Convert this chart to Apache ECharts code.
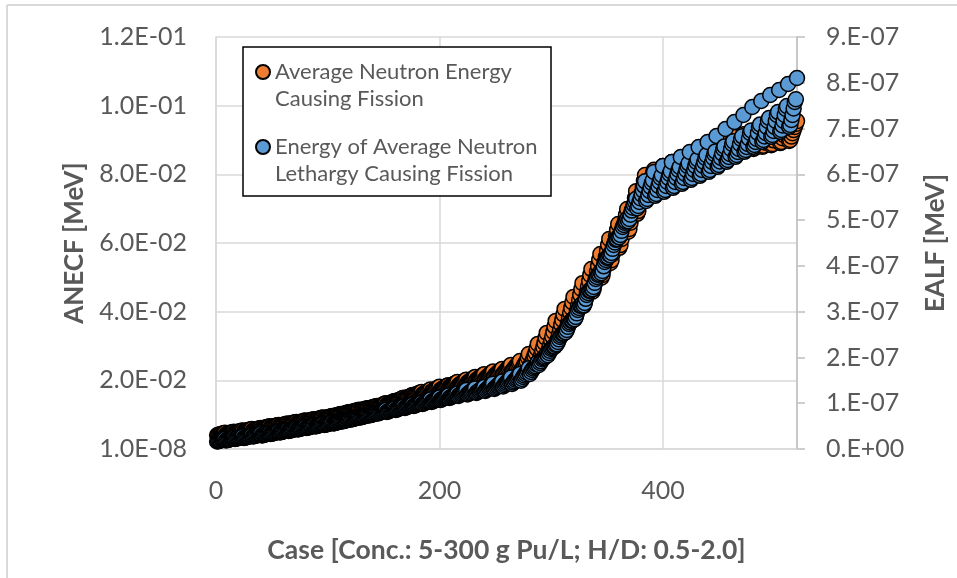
<!DOCTYPE html>
<html>
<head>
<meta charset="utf-8">
<script src="https://cdn.jsdelivr.net/npm/echarts@6/dist/echarts.min.js"></script>
<style>html,body{margin:0;padding:0;background:#fff}#c{width:957px;height:578px}</style>
</head>
<body>
<div id="c"></div>
<script>
// ---- DATA ----
// Cases come in groups of 8 consecutive sub-cases. Array "k" holds one sub-case of every group;
// within a group the sub-cases are plotted in the order 8,7,...,1 (lowest value first).
const groupSize = 8;

// ANECF [MeV] (left axis)
const anecf1 = [.0047,.0050,.0054,.0058,.0061,.0066,.0070,.0074,.0079,.0083,.0087,.0092,.0096,.0102,.0108,.0114,.0119,.0125,.0133,.0140,.0149,.0157,.0166,.0173,.0181,.0186,.0195,.0202,.0210,.0218,.0226,.0233,.0245,.0256,
.0277,.0306,.0338,.0373,.0408,.0443,.0483,.0524,.0568,.0612,.0655,.0699,.0751,.0798,.0813,.0824,.0836,.0845,.0856,.0868,.0877,.0888,.0897,.0909,.0917,.0926,.0932,.0938,.0944,.0950,.0955];
const anecf2 = [.0046,.0049,.0053,.0057,.0060,.0065,.0069,.0073,.0078,.0082,.0086,.0091,.0095,.0101,.0107,.0113,.0118,.0124,.01315,.01385,.01475,.01555,.01645,.0171,.0179,.0184,.0193,.01995,.02075,.02155,.0223,.0230,.02413,.02518,
.0267,.0293,.0324,.0357,.0392,.0427,.0466,.0507,.0551,.0595,.0638,.0682,.0731,.0781,.0803,.0816,.0827,.0836,.0848,.0859,.0868,.0880,.0889,.0900,.0909,.0918,.0924,.0929,.0935,.0941,.0947];
const anecf3 = [.0045,.0048,.0052,.0056,.0059,.0064,.0068,.0072,.0077,.0081,.0085,.0090,.0094,.0100,.0106,.0112,.0117,.0123,.0130,.0137,.0146,.0154,.0163,.0169,.0177,.0182,.0191,.0197,.0205,.0213,.0220,.0227,.02376,.02476,
.0256,.0280,.0309,.0341,.0376,.0411,.0449,.0489,.0533,.0577,.0620,.0664,.0711,.0763,.0792,.0807,.0818,.0827,.0839,.0850,.0859,.0871,.0880,.0891,.0900,.0909,.0915,.0920,.0926,.0932,.0938];
const anecf4 = [.0044,.0047,.0051,.0055,.0058,.0063,.0067,.0071,.0076,.0080,.0084,.0089,.0093,.0099,.0105,.0111,.0116,.0122,.01285,.01355,.01445,.01525,.01615,.0167,.0175,.0180,.0189,.01945,.02025,.02105,.0217,.0224,.02339,.02434,
.0251,.0271,.0297,.0328,.0362,.0397,.0433,.0473,.0516,.0560,.0603,.0647,.0694,.0746,.0782,.0800,.0811,.0820,.0832,.0842,.0852,.0862,.0873,.0883,.0892,.0900,.0906,.0912,.0918,.0924,.0929];
const anecf5 = [.0043,.0046,.0050,.0054,.0057,.0062,.0066,.0070,.0075,.0079,.0083,.0088,.0092,.0098,.0104,.0110,.0115,.0121,.0127,.0134,.0143,.0151,.0160,.0165,.0173,.0178,.0187,.0192,.0200,.0208,.0214,.0221,.02302,.02392,
.0245,.0262,.0285,.0315,.0347,.0382,.0417,.0457,.0498,.0542,.0585,.0629,.0676,.0728,.0772,.0792,.0804,.0813,.0824,.0833,.0845,.0853,.0865,.0874,.0883,.0891,.0897,.0903,.0909,.0915,.0920];
const anecf6 = [.0042,.0045,.0049,.0053,.0056,.0061,.0065,.0069,.0074,.0078,.0082,.0087,.0091,.0097,.0103,.0109,.0114,.0120,.01255,.01325,.01415,.01495,.01585,.0163,.0171,.0176,.0185,.01895,.01975,.02055,.0211,.0218,.02265,.0235,
.0239,.0255,.0275,.0303,.0334,.0367,.0402,.0441,.0482,.0525,.0568,.0612,.0659,.0711,.0759,.0784,.0795,.0804,.0816,.0825,.0836,.0845,.0855,.0864,.0873,.0881,.0887,.0893,.0899,.0905,.0910];
const anecf7 = [.0041,.0044,.0048,.0052,.0055,.0060,.0064,.0068,.0073,.0077,.0081,.0086,.0090,.0096,.0102,.0108,.0113,.0119,.0124,.0131,.0140,.0148,.0157,.0161,.0169,.0174,.0183,.0187,.0195,.0203,.0208,.0215,.02228,.02308,
.0233,.0248,.0265,.0291,.0320,.0352,.0387,.0425,.0466,.0507,.0550,.0594,.0641,.0693,.0746,.0775,.0786,.0795,.0807,.0816,.0827,.0836,.0845,.0853,.0862,.0871,.0877,.0883,.0888,.0894,.0900];
const anecf8 = [.0040,.0043,.0047,.0051,.0054,.0059,.0063,.0067,.0072,.0076,.0080,.0085,.0089,.0095,.0101,.0107,.0112,.0118,.01225,.01295,.01385,.01465,.01555,.0159,.0167,.0172,.0181,.01845,.01925,.02005,.0205,.0212,.02191,.02266,
.0227,.0240,.0257,.0283,.0312,.0344,.0379,.0417,.0458,.0499,.0542,.0586,.0633,.0685,.0738,.0770,.0783,.0792,.0804,.0813,.0824,.0833,.0842,.0850,.0859,.0868,.0874,.0880,.0885,.0891,.0897];

// EALF [MeV] (right axis)
const ealf1 = [2.17e-8,2.39e-8,2.71e-8,2.93e-8,3.26e-8,3.48e-8,3.81e-8,4.13e-8,4.46e-8,4.79e-8,5.12e-8,5.45e-8,5.77e-8,6.10e-8,6.54e-8,6.97e-8,7.41e-8,7.85e-8,8.53e-8,8.85e-8,9.29e-8,9.73e-8,10.16e-8,10.81e-8,11.25e-8,11.68e-8,12.12e-8,12.91e-8,13.24e-8,13.56e-8,14.28e-8,14.72e-8,15.61e-8,16.37e-8,
1.763e-7,1.890e-7,2.072e-7,2.274e-7,2.558e-7,2.842e-7,3.170e-7,3.497e-7,3.869e-7,4.240e-7,4.633e-7,5.026e-7,5.464e-7,5.848e-7,6.051e-7,6.182e-7,6.270e-7,6.379e-7,6.488e-7,6.597e-7,6.706e-7,6.837e-7,6.990e-7,7.143e-7,7.296e-7,7.471e-7,7.602e-7,7.733e-7,7.842e-7,7.973e-7,8.104e-7];
const ealf2 = [2.09e-8,2.31e-8,2.63e-8,2.85e-8,3.18e-8,3.40e-8,3.73e-8,4.05e-8,4.38e-8,4.71e-8,5.04e-8,5.37e-8,5.69e-8,6.02e-8,6.46e-8,6.89e-8,7.33e-8,7.77e-8,8.42e-8,8.74e-8,9.18e-8,9.62e-8,10.05e-8,10.67e-8,11.11e-8,11.54e-8,11.98e-8,12.72e-8,13.05e-8,13.37e-8,14.05e-8,14.49e-8,15.33e-8,16.06e-8,
1.719e-7,1.845e-7,2.026e-7,2.238e-7,2.522e-7,2.806e-7,3.134e-7,3.461e-7,3.822e-7,4.193e-7,4.586e-7,4.968e-7,5.396e-7,5.749e-7,5.87e-7,5.98e-7,6.07e-7,6.16e-7,6.24e-7,6.33e-7,6.42e-7,6.50e-7,6.61e-7,6.72e-7,6.83e-7,6.96e-7,7.09e-7,7.23e-7,7.36e-7,7.49e-7,7.64e-7];
const ealf3 = [2.02e-8,2.24e-8,2.56e-8,2.78e-8,3.11e-8,3.33e-8,3.66e-8,3.98e-8,4.31e-8,4.64e-8,4.97e-8,5.30e-8,5.62e-8,5.95e-8,6.39e-8,6.82e-8,7.26e-8,7.70e-8,8.31e-8,8.63e-8,9.07e-8,9.51e-8,9.94e-8,10.53e-8,10.97e-8,11.40e-8,11.84e-8,12.53e-8,12.86e-8,13.18e-8,13.82e-8,14.26e-8,15.05e-8,15.75e-8,
1.674e-7,1.809e-7,1.999e-7,2.231e-7,2.515e-7,2.799e-7,3.127e-7,3.454e-7,3.804e-7,4.175e-7,4.569e-7,4.940e-7,5.338e-7,5.650e-7,5.811e-7,5.920e-7,6.007e-7,6.095e-7,6.182e-7,6.270e-7,6.357e-7,6.444e-7,6.554e-7,6.663e-7,6.772e-7,6.903e-7,7.034e-7,7.165e-7,7.296e-7,7.427e-7,7.580e-7];
const ealf4 = [1.94e-8,2.16e-8,2.48e-8,2.70e-8,3.03e-8,3.25e-8,3.58e-8,3.90e-8,4.23e-8,4.56e-8,4.89e-8,5.22e-8,5.54e-8,5.87e-8,6.31e-8,6.74e-8,7.18e-8,7.62e-8,8.20e-8,8.52e-8,8.96e-8,9.40e-8,9.83e-8,10.39e-8,10.83e-8,11.26e-8,11.70e-8,12.34e-8,12.67e-8,12.99e-8,13.59e-8,14.03e-8,14.77e-8,15.44e-8,
1.641e-7,1.785e-7,1.985e-7,2.206e-7,2.479e-7,2.763e-7,3.080e-7,3.407e-7,3.757e-7,4.128e-7,4.511e-7,4.893e-7,5.271e-7,5.562e-7,5.724e-7,5.833e-7,5.920e-7,6.008e-7,6.095e-7,6.183e-7,6.270e-7,6.357e-7,6.456e-7,6.554e-7,6.663e-7,6.783e-7,6.903e-7,7.034e-7,7.165e-7,7.296e-7,7.438e-7];
const ealf5 = [1.87e-8,2.09e-8,2.41e-8,2.63e-8,2.96e-8,3.18e-8,3.51e-8,3.83e-8,4.16e-8,4.49e-8,4.82e-8,5.15e-8,5.47e-8,5.80e-8,6.24e-8,6.67e-8,7.11e-8,7.55e-8,8.09e-8,8.41e-8,8.85e-8,9.29e-8,9.72e-8,10.25e-8,10.69e-8,11.12e-8,11.56e-8,12.15e-8,12.48e-8,12.80e-8,13.36e-8,13.80e-8,14.49e-8,15.13e-8,
1.607e-7,1.761e-7,1.960e-7,2.185e-7,2.447e-7,2.731e-7,3.037e-7,3.365e-7,3.714e-7,4.086e-7,4.457e-7,4.850e-7,5.208e-7,5.473e-7,5.636e-7,5.745e-7,5.833e-7,5.920e-7,6.007e-7,6.095e-7,6.182e-7,6.270e-7,6.357e-7,6.444e-7,6.554e-7,6.663e-7,6.772e-7,6.903e-7,7.034e-7,7.165e-7,7.296e-7];
const ealf6 = [1.79e-8,2.01e-8,2.33e-8,2.55e-8,2.88e-8,3.10e-8,3.43e-8,3.75e-8,4.08e-8,4.41e-8,4.74e-8,5.07e-8,5.39e-8,5.72e-8,6.16e-8,6.59e-8,7.03e-8,7.47e-8,7.98e-8,8.30e-8,8.74e-8,9.18e-8,9.61e-8,10.11e-8,10.55e-8,10.98e-8,11.42e-8,11.96e-8,12.29e-8,12.61e-8,13.13e-8,13.57e-8,14.21e-8,14.82e-8,
1.573e-7,1.727e-7,1.915e-7,2.144e-7,2.395e-7,2.668e-7,2.963e-7,3.280e-7,3.629e-7,3.990e-7,4.372e-7,4.765e-7,5.119e-7,5.396e-7,5.549e-7,5.658e-7,5.746e-7,5.833e-7,5.920e-7,6.008e-7,6.095e-7,6.183e-7,6.281e-7,6.379e-7,6.488e-7,6.598e-7,6.707e-7,6.827e-7,6.947e-7,7.067e-7,7.187e-7];
const ealf7 = [1.72e-8,1.94e-8,2.26e-8,2.48e-8,2.81e-8,3.03e-8,3.36e-8,3.68e-8,4.01e-8,4.34e-8,4.67e-8,5.00e-8,5.32e-8,5.65e-8,6.09e-8,6.52e-8,6.96e-8,7.40e-8,7.87e-8,8.19e-8,8.63e-8,9.07e-8,9.50e-8,9.97e-8,10.41e-8,10.84e-8,11.28e-8,11.77e-8,12.10e-8,12.42e-8,12.90e-8,13.34e-8,13.93e-8,14.51e-8,
1.529e-7,1.682e-7,1.879e-7,2.097e-7,2.337e-7,2.600e-7,2.884e-7,3.189e-7,3.539e-7,3.888e-7,4.282e-7,4.675e-7,5.024e-7,5.308e-7,5.461e-7,5.570e-7,5.658e-7,5.745e-7,5.833e-7,5.920e-7,6.007e-7,6.095e-7,6.204e-7,6.313e-7,6.422e-7,6.532e-7,6.641e-7,6.750e-7,6.859e-7,6.969e-7,7.078e-7];
const ealf8 = [1.64e-8,1.86e-8,2.18e-8,2.40e-8,2.73e-8,2.95e-8,3.28e-8,3.60e-8,3.93e-8,4.26e-8,4.59e-8,4.92e-8,5.24e-8,5.57e-8,6.01e-8,6.44e-8,6.88e-8,7.32e-8,7.76e-8,8.08e-8,8.52e-8,8.96e-8,9.39e-8,9.83e-8,10.27e-8,10.70e-8,11.14e-8,11.58e-8,11.91e-8,12.23e-8,12.67e-8,13.11e-8,13.65e-8,14.20e-8,
1.490e-7,1.640e-7,1.835e-7,2.050e-7,2.290e-7,2.552e-7,2.835e-7,3.140e-7,3.490e-7,3.840e-7,4.233e-7,4.627e-7,4.976e-7,5.260e-7,5.420e-7,5.530e-7,5.618e-7,5.705e-7,5.793e-7,5.880e-7,5.967e-7,6.055e-7,6.164e-7,6.273e-7,6.382e-7,6.492e-7,6.601e-7,6.710e-7,6.819e-7,6.929e-7,7.038e-7];

const seriesNames = ['Average Neutron Energy\nCausing Fission', 'Energy of Average Neutron\nLethargy Causing Fission'];
const xTicks = [0, 200, 400];

// ---- BUILD ----
// case number = group index * 8 + position within the group (1..8)
function interleave(subCases) {
  const out = [];
  for (let i = 0; i < subCases[0].length; i++) {
    subCases.forEach((s, k) => out.push([i * groupSize + k + 1, s[i]]));
  }
  return out;
}
const anecfData = interleave([anecf8, anecf7, anecf6, anecf5, anecf4, anecf3, anecf2, anecf1]);
const ealfData = interleave([ealf8, ealf7, ealf6, ealf5, ealf4, ealf3, ealf2, ealf1]);

function expo(v) { return Math.floor(Math.log10(Math.abs(v)) + 1e-6); }
function pad(e) { return (e < 0 ? '-' : '+') + String(Math.abs(e)).padStart(2, '0'); }

const FONT = 'Lato';
const GREY = '#595959';
const chart = echarts.init(document.getElementById('c'), null, {renderer: 'canvas'});
chart.setOption({
  animation: false,
  backgroundColor: '#fff',
  grid: {left: 216, right: 154, top: 37, bottom: 129},
  xAxis: {
    type: 'value', min: 0, max: 520, interval: xTicks[1] - xTicks[0],
    name: 'Case [Conc.: 5-300 g Pu/L; H/D: 0.5-2.0]', nameLocation: 'middle', nameGap: 88,
    nameTextStyle: {fontFamily: FONT, fontSize: 26.5, fontWeight: 'bold', color: GREY},
    axisLine: {show: true, lineStyle: {color: '#D9D9D9', width: 1.5}},
    axisTick: {show: false},
    axisLabel: {fontFamily: FONT, fontSize: 25, color: GREY, margin: 29, showMaxLabel: false},
    splitLine: {show: true, lineStyle: {color: '#D9D9D9', width: 1.5}}
  },
  yAxis: [{
    type: 'value', min: 0, max: 0.12, interval: 0.02, position: 'left',
    name: 'ANECF [MeV]', nameLocation: 'middle', nameRotate: 90, nameGap: 128,
    nameTextStyle: {fontFamily: FONT, fontSize: 26, fontWeight: 'bold', color: GREY},
    axisLine: {show: true, lineStyle: {color: '#D9D9D9', width: 1.5}},
    axisTick: {show: false},
    axisLabel: {fontFamily: FONT, fontSize: 25, color: GREY, margin: 29,
      formatter: v => v === 0 ? '1.0E-08' : (v / Math.pow(10, expo(v))).toFixed(1) + 'E' + pad(expo(v))},
    splitLine: {show: true, lineStyle: {color: '#D9D9D9', width: 1.5}}
  }, {
    type: 'value', min: 0, max: 9e-7, interval: 1e-7, position: 'right',
    name: 'EALF [MeV]', nameLocation: 'middle', nameRotate: 90, nameGap: 126,
    nameTextStyle: {fontFamily: FONT, fontSize: 26, fontWeight: 'bold', color: GREY},
    axisLine: {show: true, lineStyle: {color: '#BFBFBF', width: 1.5}},
    axisTick: {show: true, inside: false, length: 8, lineStyle: {color: '#BFBFBF', width: 1.5}},
    axisLabel: {fontFamily: FONT, fontSize: 25, color: GREY, margin: 29,
      formatter: v => v === 0 ? '0.E+00' : Math.round(v / Math.pow(10, expo(v))) + '.E' + pad(expo(v))},
    splitLine: {show: false}
  }],
  legend: {
    orient: 'vertical', left: 255, top: 31.5, padding: 0, itemGap: -6,
    itemWidth: 14, itemHeight: 14, selectedMode: false,
    data: seriesNames,
    formatter: n => '\n' + n,
    textStyle: {fontFamily: FONT, fontSize: 22, color: GREY, lineHeight: 27}
  },
  graphic: [
    {type: 'rect', z: 3, shape: {x: 243, y: 47, width: 308, height: 149}, style: {fill: '#fff', stroke: '#000', lineWidth: 1.5}},
    {type: 'line', z: 1, shape: {x1: 7, y1: 5, x2: 957, y2: 5}, style: {stroke: '#D9D9D9', lineWidth: 2}},
    {type: 'line', z: 1, shape: {x1: 7, y1: 5, x2: 7, y2: 578}, style: {stroke: '#D9D9D9', lineWidth: 2}}
  ],
  series: [{
    name: seriesNames[0], type: 'scatter', yAxisIndex: 0, data: anecfData,
    symbol: 'circle', symbolSize: 15,
    itemStyle: {color: '#ED7D31', borderColor: '#000', borderWidth: 1.5, opacity: 1}
  }, {
    name: seriesNames[1], type: 'scatter', yAxisIndex: 1, data: ealfData,
    symbol: 'circle', symbolSize: 15,
    itemStyle: {color: '#5B9BD5', borderColor: '#000', borderWidth: 1.5, opacity: 1}
  }]
});
</script>
</body>
</html>
